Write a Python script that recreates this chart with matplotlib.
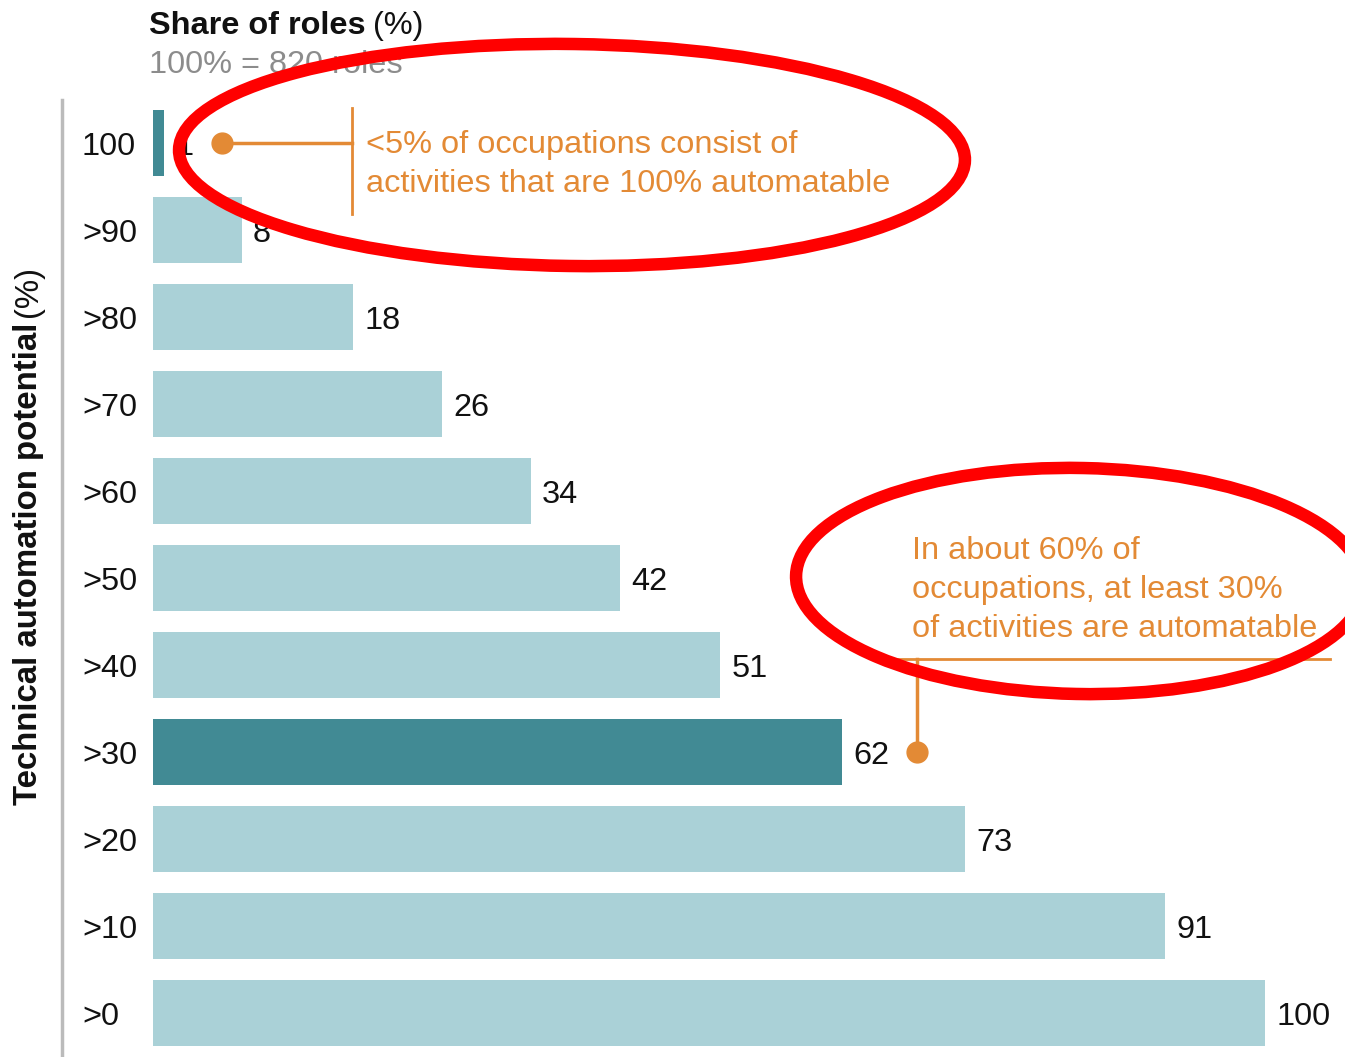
import matplotlib.pyplot as plt
from matplotlib.patches import Ellipse

plt.rcParams['font.family'] = ['Liberation Sans', 'DejaVu Sans']

# data
categories = ["100", ">90", ">80", ">70", ">60", ">50", ">40", ">30", ">20", ">10", ">0"]
shares = [1, 8, 18, 26, 34, 42, 51, 62, 73, 91, 100]
highlight = ["100", ">30"]

LIGHT = "#aad1d7"
DARK = "#418a94"
ORANGE = "#e38a35"
RED = "#ff0000"
FS = 23.4

W, H = 1345, 1057
fig = plt.figure(figsize=(W / 100, H / 100), dpi=100)


def px(x, y):
    return x / W, 1 - y / H


# axes: value 0 at x=153, 100 at x=1265; first bar centred at y=143, step 87
x0, x100 = 153, 1265
ppu = (x100 - x0) / 100.0
step = 87.0
ax = fig.add_axes([x0 / W, 0, 1 - x0 / W, 1 - 100 / H])
ax.set_xlim(0, (W - x0) / ppu)
ax.set_ylim((H - 143) / step, -(143 - 100) / step)
ax.axis("off")

ypos = list(range(len(categories)))
colors = [DARK if c in highlight else LIGHT for c in categories]
ax.barh(ypos, shares, height=0.75, color=colors, zorder=2)

for y, v in zip(ypos, shares):
    ax.text(v + 1.0, y + 0.05, str(v), va="center", ha="left", fontsize=FS, color="#111111")

# category labels
for y, c in zip(ypos, categories):
    fig.text(82 / W, 1 - (147 + y * step) / H, c, va="center", ha="left",
             fontsize=FS, color="#111111")

# left axis line
fig.add_artist(plt.Line2D([62 / W, 62 / W], [0, 1 - 100 / H], color="#bbbbbb", lw=2.5))

renderer = fig.canvas.get_renderer()

# axis title (rotated), bold part then regular "(%)"
t = fig.text(*px(29, 805), "Technical automation potential", rotation=90, ha="center",
             va="bottom", fontsize=23.8, fontweight="bold", color="#111111")
bb = t.get_window_extent(renderer)
fig.text(29 / W, (bb.y1 + 6) / H, "(%)", rotation=90, ha="center", va="bottom",
         fontsize=23.8, color="#111111")

# header
t = fig.text(*px(149, 26), "Share of roles", ha="left", va="center", fontsize=FS,
             fontweight="bold", color="#111111")
bb = t.get_window_extent(renderer)
fig.text((bb.x1 + 7) / W, 1 - 26 / H, "(%)", ha="left", va="center", fontsize=FS,
         color="#111111")
fig.text(*px(149, 65), "100% = 820 roles", ha="left", va="center", fontsize=FS,
         color="#8c8c8c")

# annotation 1: top bar
dot1_x = (222 - x0) / ppu
vx1 = (352 - x0) / ppu
ax.plot([dot1_x, vx1], [0, 0], color=ORANGE, lw=2.5, zorder=3)
ax.plot(dot1_x, 0, "o", color=ORANGE, ms=15, zorder=3)
ax.plot([vx1, vx1], [-(143 - 108) / step, (214 - 143) / step], color=ORANGE, lw=2, zorder=3)
fig.text(*px(366, 145), "<5% of occupations consist of", ha="left", va="center",
         fontsize=FS, color=ORANGE)
fig.text(*px(366, 184), "activities that are 100% automatable", ha="left", va="center",
         fontsize=FS, color=ORANGE)

# annotation 2: >30 bar
dot2_x = (917 - x0) / ppu
hline_y = 7 - (752 - 659) / step
ax.plot([dot2_x, dot2_x], [7, hline_y], color=ORANGE, lw=2.5, zorder=3, clip_on=False)
ax.plot(dot2_x, 7, "o", color=ORANGE, ms=15, zorder=3)
ax.plot([(898 - x0) / ppu, (1330 - x0) / ppu], [hline_y, hline_y], color=ORANGE, lw=2,
        zorder=3, clip_on=False)
for i, line in enumerate(["In about 60% of", "occupations, at least 30%",
                          "of activities are automatable"]):
    fig.text(*px(912, 551 + i * 39), line, ha="left", va="center", fontsize=FS,
             color=ORANGE)

# red ellipses drawn over the chart
e1 = Ellipse(px(572, 155), 786 / W, 222 / H, angle=-1.0, transform=fig.transFigure,
             fill=False, edgecolor=RED, lw=9, zorder=10)
e2 = Ellipse(px(1080, 581), 568 / W, 226 / H, angle=-1.5, transform=fig.transFigure,
             fill=False, edgecolor=RED, lw=9, zorder=10)
fig.add_artist(e1)
fig.add_artist(e2)

fig.savefig("out.png", dpi=100)
